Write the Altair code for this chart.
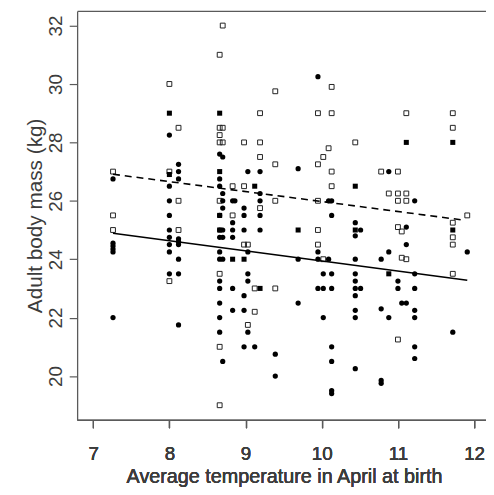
import altair as alt
import pandas as pd

# ---- data ----
circle_x = [7.26]*6 + [8.0]*9 + [8.12]*9 + [8.66]*13 + [8.70]*8 + [8.83]*6 + [8.86] + \
    [8.98]*6 + [9.03]*5 + [9.12] + [9.19]*5 + [9.39]*2 + [9.69]*3 + [9.95]*4 + [10.02]*3 + \
    [10.09]*2 + [10.13]*8 + [10.44]*10 + [10.51]*2 + [10.78]*4 + [10.88]*3 + [11.0]*2 + \
    [11.05] + [11.11]*3 + [11.22]*7 + [11.72] + [11.91]
circle_y = [26.75, 24.55, 24.45, 24.35, 24.25, 22.0,
            28.25, 26.5, 26.0, 25.5, 25.0, 24.75, 24.5, 24.25, 23.5,
            27.25, 27.0, 26.75, 24.7, 24.6, 24.5, 24.0, 23.5, 21.75,
            27.6, 26.75, 26.5, 25.5, 25.0, 24.75, 24.25, 24.0, 23.25, 23.0, 22.5, 22.0, 21.5,
            27.5, 26.25, 26.0, 25.75, 25.0, 24.75, 24.0, 20.5,
            26.0, 25.25, 25.0, 24.75, 23.0, 22.25, 26.0,
            25.75, 25.5, 25.0, 22.75, 22.25, 21.0,
            27.0, 24.25, 23.5, 23.25, 21.5,
            21.0,
            27.0, 26.25, 26.0, 25.5, 25.0,
            20.75, 20.0,
            27.1, 24.0, 22.5,
            30.25, 24.25, 24.0, 23.0,
            23.5, 23.0, 22.0,
            26.0, 24.0,
            26.0, 25.5, 23.5, 23.0, 21.0, 20.5, 19.5, 19.4,
            25.25, 24.8, 24.0, 23.5, 23.25, 23.0, 22.75, 22.25, 22.0, 20.25,
            25.0, 23.0,
            24.0, 22.3, 19.85, 19.75,
            27.0, 24.25, 22.0,
            23.25, 23.0,
            22.5,
            25.1, 24.5, 22.5,
            26.0, 23.5, 23.0, 22.25, 22.0, 21.0, 20.6,
            21.5,
            24.25]

open_sq_x = [7.26]*3 + [8.0]*3 + [8.12]*3 + [8.66]*8 + [8.70]*3 + [8.83]*2 + [8.98]*3 + \
    [9.03]*2 + [9.12]*2 + [9.19]*4 + [9.39]*4 + [9.95]*5 + [10.02]*2 + [10.09] + [10.13]*4 + \
    [10.44] + [10.78] + [10.88] + [11.0]*5 + [11.05]*2 + [11.11]*4 + [11.72]*6 + [11.91]
open_sq_y = [27.0, 25.5, 25.0,
             30.0, 27.0, 23.25,
             28.5, 26.0, 25.0,
             31.0, 28.5, 28.25, 28.0, 26.0, 23.5, 21.0, 19.0,
             32.0, 28.5, 28.0,
             26.5, 25.5,
             28.0, 26.5, 24.5,
             24.5, 21.75,
             23.0, 22.2,
             29.0, 28.0, 27.5, 25.75,
             29.75, 27.25, 26.0, 23.0,
             29.0, 27.25, 26.0, 25.0, 24.5,
             27.5, 24.0,
             27.8,
             29.9, 29.0, 27.0, 26.5,
             28.0,
             27.0,
             26.25,
             27.0, 26.25, 26.0, 25.1, 21.25,
             24.95, 24.05,
             29.0, 26.25, 26.0, 24.0,
             29.0, 28.5, 25.25, 24.75, 24.5, 23.5,
             25.5]

filled_sq_x = [8.0, 8.0, 8.66, 8.66, 8.66, 8.66, 8.83, 8.98, 9.12, 9.19, 9.69,
               10.44, 10.44, 10.88, 11.11, 11.72, 11.72]
filled_sq_y = [29.0, 26.9, 29.0, 27.0, 25.5, 25.0, 24.0, 24.0, 26.5, 23.0, 25.0,
               26.5, 25.0, 23.5, 28.0, 28.0, 25.0]

solid_x = [7.26, 11.91]
solid_y = [24.89, 23.28]
dashed_x = [7.26, 11.83]
dashed_y = [26.91, 25.35]

x_ticks = [7, 8, 9, 10, 11, 12]
y_ticks = [20, 22, 24, 26, 28, 30, 32]

# ---- tables ----
circles = pd.DataFrame({"t": circle_x, "m": circle_y})
open_sq = pd.DataFrame({"t": open_sq_x, "m": open_sq_y})
filled_sq = pd.DataFrame({"t": filled_sq_x, "m": filled_sq_y})
solid = pd.DataFrame({"t": solid_x, "m": solid_y})
dashed = pd.DataFrame({"t": dashed_x, "m": dashed_y})

FONT = "Liberation Sans"
GRAY = "#5a5a5a"
TXT = "#3c3c3c"

xscale = alt.Scale(domain=[6.789, 12.156], nice=False, zero=False)
yscale = alt.Scale(domain=[18.5, 32.5], nice=False, zero=False)

xaxis = alt.Axis(orient="bottom", values=x_ticks, title="Average temperature in April at birth",
                 tickSize=8, labelPadding=32, labelBaseline="alphabetic",
                 labelFontSize=19, titleFontSize=20, titleX=209.5, titleY=63,
                 titleBaseline="alphabetic", titleAlign="center", titleAnchor="middle",
                 labelFlush=False)
yaxis = alt.Axis(orient="left", values=y_ticks, title="Adult body mass (kg)",
                 tickSize=8, labelPadding=8, labelAngle=270, labelAlign="center",
                 labelBaseline="alphabetic", labelFontSize=19, titleFontSize=21,
                 titleAngle=270, titleX=-36, titleY=207, titleBaseline="alphabetic",
                 titleAlign="center", labelFlush=False)
topaxis = alt.Axis(orient="top", labels=False, ticks=False, title=None, domain=True)


def enc(axis_x):
    return dict(x=alt.X("t:Q", scale=xscale, axis=axis_x),
                y=alt.Y("m:Q", scale=yscale, axis=yaxis))


pts_c = alt.Chart(circles).mark_point(shape="circle", filled=True, size=28,
                                      color="black", opacity=1).encode(**enc(xaxis))
pts_o = alt.Chart(open_sq).mark_point(shape="square", filled=False, size=24,
                                      color="#222222", strokeWidth=1, opacity=1).encode(**enc(xaxis))
pts_f = alt.Chart(filled_sq).mark_point(shape="square", filled=True, size=26,
                                        color="black", opacity=1).encode(**enc(xaxis))
line_s = alt.Chart(solid).mark_line(color="black", strokeWidth=1.6).encode(**enc(xaxis))
line_d = alt.Chart(dashed).mark_line(color="black", strokeWidth=1.6,
                                     strokeDash=[7, 5]).encode(**enc(topaxis))

chart = alt.layer(pts_o, pts_f, pts_c, line_s, line_d).resolve_axis(
    x="independent"
).properties(
    width=414, height=414,
    padding={"left": 70, "top": 0, "right": 0, "bottom": 65},
    autosize=alt.AutoSizeParams(type="none"),
    background="white",
).configure_view(stroke=None).configure_axis(
    grid=False, domainColor=GRAY, domainWidth=1.3, tickColor=GRAY, tickWidth=1.2,
    labelFont=FONT, titleFont=FONT, labelColor=TXT, titleColor=TXT,
    titleFontWeight="normal",
)

chart.save("out.html", embed_options={"renderer": "svg", "actions": False})
